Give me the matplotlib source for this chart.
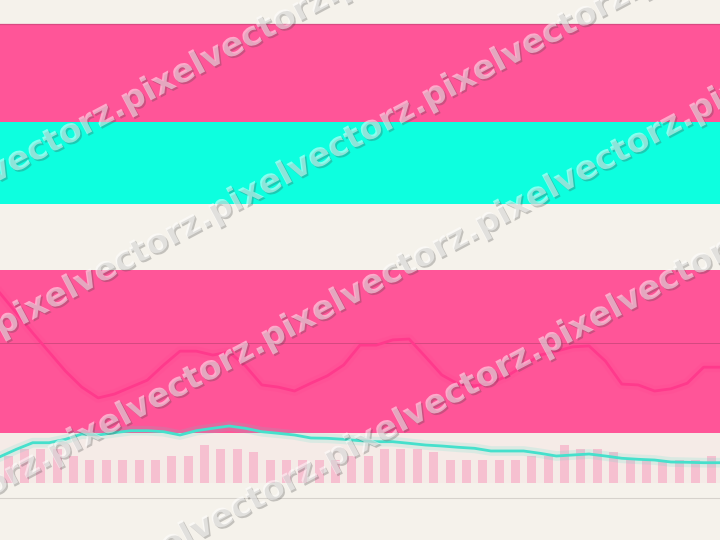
import matplotlib
matplotlib.use("Agg")
import matplotlib.pyplot as plt
import matplotlib.patheffects as pe
import numpy as np

# ---- data ----
signal = [32.3, 27.7, 23.1, 18.7, 14.3, 10.6, 8.1, 9.0, 10.6, 12.2, 15.7, 18.9, 18.9, 18.0,
          18.7, 15.5, 11.1, 10.6, 9.7, 11.5, 13.2, 15.7, 20.3, 20.3, 21.5, 21.7, 17.6, 13.4,
          11.3, 10.9, 11.5, 13.2, 15.5, 18.0, 18.9, 19.9, 20.1, 16.6, 11.3, 11.1, 9.7, 10.2,
          11.5, 15.2, 15.2]
ref_level = 20.8
zones = [(0.0, 37.6, "pink"), (52.9, 71.8, "cyan"), (71.8, 94.5, "pink")]

volume = [7, 9, 9, 9, 7, 6, 6, 6, 6, 6, 7, 7, 10, 9, 9, 8, 6, 6, 6, 6, 6, 7,
          7, 9, 9, 9, 8, 6, 6, 6, 6, 6, 7, 7, 10, 9, 9, 8, 6, 6, 6, 6, 6, 7]
trend = [6.88, 8.84, 10.58, 10.58, 11.48, 12.88, 12.62, 13.23, 13.76, 13.76, 13.49, 12.62,
         13.76, 14.39, 15.0, 14.39, 13.49, 13.07, 12.62, 11.83, 11.75, 11.48, 11.11, 10.85,
         10.85, 10.42, 9.97, 9.71, 9.37, 9.1, 8.39, 8.39, 8.39, 7.78, 7.06, 7.33, 7.59, 7.06,
         6.46, 6.19, 6.0, 5.48, 5.4, 5.29, 5.29]

WATERMARK = "pixelvectorz."

CREAM = "#f5f2eb"
PINK = "#ff5598"
CYAN = "#0dffdf"
LINE_PINK = "#ff3a8c"
TEAL = "#45e0cc"

fig = plt.figure(figsize=(7.2, 5.4), dpi=100, facecolor=CREAM)

# upper panel
ax = fig.add_axes([0, 107 / 540, 1, 433 / 540])
ax.set_facecolor("none")
colors = {"pink": PINK, "cyan": CYAN}
for lo, hi, c in zones:
    ax.axhspan(lo, hi, color=colors[c], lw=0, zorder=0)
ax.axhline(zones[-1][1], color="#d94a82", lw=0.9, zorder=1)
ax.axhline(ref_level, color="#c8467a", lw=0.7, alpha=0.8, zorder=1)
x = np.arange(len(signal))
ax.plot(x, signal, color=LINE_PINK, lw=7, alpha=0.12, zorder=2, solid_joinstyle="round")
ax.plot(x, signal, color=LINE_PINK, lw=2, zorder=3)
ax.set_xlim(0, len(signal) - 1)
ax.set_ylim(0, 100)
ax.axis("off")

# lower panel
axv = fig.add_axes([0, 42 / 540, 1, 65 / 540])
axv.set_facecolor("none")
xb = np.arange(len(volume)) + 0.5
axv.axhspan(0, 13.15, color=PINK, alpha=0.04, lw=0)
axv.bar(xb, volume, width=0.55, color="#f7b6cb", alpha=0.8, lw=0)
xt = np.arange(len(trend))
axv.plot(xt, trend, color=TEAL, lw=7, alpha=0.15, clip_on=False, zorder=4)
axv.plot(xt, trend, color=TEAL, lw=2, clip_on=False, zorder=5)
axv.set_xlim(0, len(trend) - 1)
axv.set_ylim(-4.05, 13.15)
for s in ["top", "left", "right"]:
    axv.spines[s].set_visible(False)
axv.spines["bottom"].set_color("#d6d2cc")
axv.set_xticks([])
axv.set_yticks([])

# watermark: four diagonal lines of repeated text
FS = 24
ANG = 28
renderer = fig.canvas.get_renderer()
probe = fig.text(0, 0, WATERMARK * 4, fontsize=FS, fontweight="bold")
adv = probe.get_window_extent(renderer).width / 4
probe.remove()
ca, sa = np.cos(np.radians(ANG)), np.sin(np.radians(ANG))
wm_fx = [pe.withSimplePatchShadow(offset=(1.2, -1.2), shadow_rgbFace="#444444", alpha=0.28)]
for px, py in [(127, 113), (0, 337), (267, 350), (330, 470)]:
    sx = px - 3 * adv * ca
    sy = py + 3 * adv * sa
    fig.text(sx / 720, 1 - sy / 540, WATERMARK * 8, fontsize=FS, fontweight="bold",
             color="white", alpha=0.5, rotation=ANG, rotation_mode="anchor",
             ha="left", va="baseline", path_effects=wm_fx)

fig.savefig("out.png", dpi=100, facecolor=CREAM)
